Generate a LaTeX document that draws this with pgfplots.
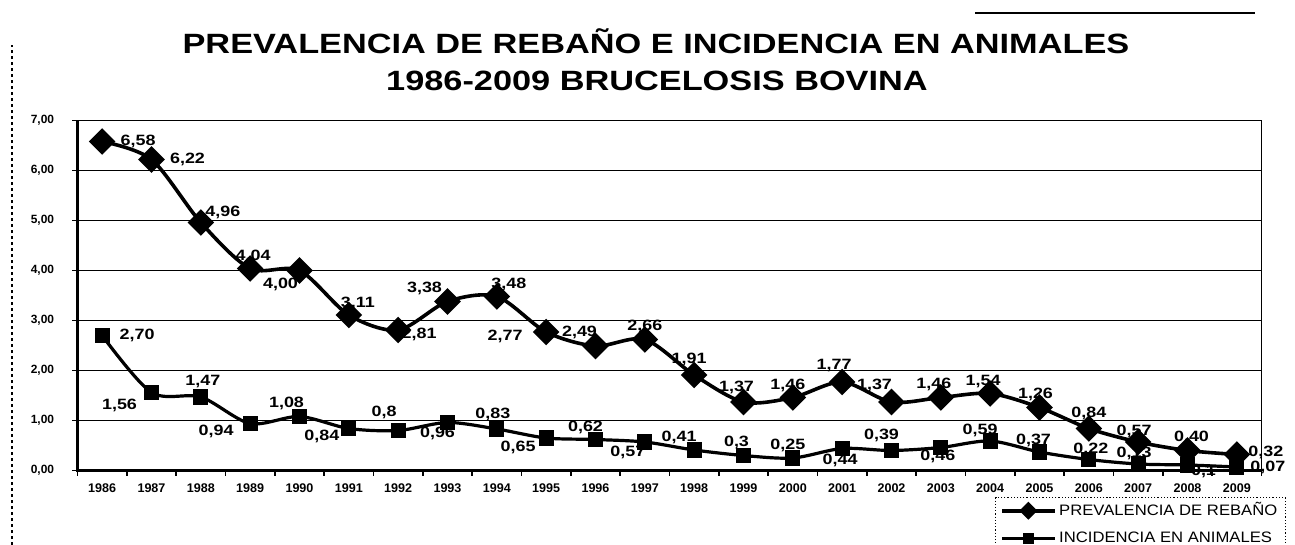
\documentclass[border=0pt]{standalone}
\usepackage{fontspec}
\setmainfont{Liberation Sans}
\usepackage{graphicx}
\usepackage{pgfplots}
\usepackage{pgfplotstable}
\pgfplotsset{compat=1.18}

\pgfplotstableread{
x y lab dx dy
0 6.58 6,58 18 0
1 6.22 6,22 18 0
2 4.96 4,96 11 5
3 4.04 4,04 1.5 6
4 4.00 4,00 -9.5 -7
5 3.11 3,11 4.5 6
6 2.81 2,81 10.5 -2
7 3.38 3,38 -11.5 6.5
8 3.48 3,48 6 6
9 2.77 2,77 -20.5 -2
10 2.49 2,49 -8 7
11 2.62 2,66 0 6.5
12 1.91 1,91 -2.5 8
13 1.37 1,37 -3.5 7.5
14 1.46 1,46 -2.5 6
15 1.77 1,77 -4 8
16 1.37 1,37 -8.5 8.5
17 1.46 1,46 -3.5 6.5
18 1.54 1,54 -3.5 6
19 1.26 1,26 -2 6.5
20 0.84 0,84 0 7.5
21 0.57 0,57 -2 5.5
22 0.40 0,40 2 6.5
23 0.32 0,32 14.5 1
}\prev

\pgfplotstableread{
x y lab dx dy
0 2.70 2,70 17.5 0
1 1.56 1,56 -16 -6.5
2 1.47 1,47 1 7.5
3 0.94 0,94 -17 -4
4 1.08 1,08 -6.5 6.5
5 0.84 0,84 -13.5 -4
6 0.80 0,8 -7 9
7 0.96 0,96 -5 -5.5
8 0.83 0,83 -2 7.5
9 0.65 0,65 -14 -4.5
10 0.62 0,62 -5 6
11 0.57 0,57 -8.5 -5
12 0.41 0,41 -7.5 6.5
13 0.30 0,3 -3.5 6.5
14 0.25 0,25 -2.5 6.5
15 0.44 0,44 -1 -6
16 0.40 0,39 -5 7.5
17 0.46 0,46 -1.5 -4.5
18 0.59 0,59 -5 5.5
19 0.37 0,37 -3 6
20 0.22 0,22 1 5
21 0.13 0,13 -2 5.5
22 0.11 0,1 8 -3
23 0.07 0,07 15.5 0
}\inc

\begin{document}
\begin{tikzpicture}
\begin{axis}[
  scale only axis, width=592bp, height=175bp,
  xmin=-0.5, xmax=23.5, ymin=0, ymax=7,
  clip=false,
  axis line style={line width=0.7bp},
  ytick={0,1,...,7},
  ymajorgrids,
  major grid style={black, line width=0.7bp},
  tick align=outside,
  xtick pos=lower, ytick pos=left,
  tick style={black, line width=0.7bp},
  major tick length=2.5bp,
  xtick={-0.5,0.5,...,23.5}, xticklabels={},
  extra x ticks={0,1,...,23},
  extra x tick labels={1986,1987,1988,1989,1990,1991,1992,1993,1994,1995,1996,1997,1998,1999,2000,2001,2002,2003,2004,2005,2006,2007,2008,2009},
  extra x tick style={major tick length=0pt, grid=none},
  x tick label style={font=\bfseries\fontsize{6.3}{7}\selectfont, anchor=north, inner sep=0pt, yshift=-6.5bp},
  y tick label style={font=\bfseries\fontsize{6}{7}\selectfont, anchor=east, inner sep=0pt, xshift=-9bp,
    /pgf/number format/.cd, fixed, fixed zerofill, precision=2, use comma, assume math mode=true},
  point meta=explicit symbolic,
  visualization depends on={\thisrow{dx} \as \labdx},
  visualization depends on={\thisrow{dy} \as \labdy},
  nodes near coords={\scalebox{1.2}[1]{\pgfplotspointmeta}},
  every node near coord/.append style={anchor=center, inner sep=0pt, xshift=\labdx bp, yshift=\labdy bp, font=\bfseries\fontsize{7.5}{8}\selectfont, black},
  legend style={at={(0.7749,-0.0757)}, anchor=north west, draw=black, line width=0.6bp, densely dotted,
    font=\fontsize{7.6}{8.5}\selectfont, inner xsep=2.5bp, inner ysep=0.5bp, row sep=2.5bp,
    nodes={inner xsep=1.5bp}},
  legend cell align=left,
  legend image code/.code={\draw[mark repeat=2, mark phase=2, #1, solid, every mark/.append style={scale=0.6}] plot coordinates {(0bp,0bp) (13bp,0bp) (26bp,0bp)};},
]
\addplot[black, line width=1.8bp, smooth, mark=square*, mark size=3.8bp, mark options={rotate=45, solid}]
  table[x=x, y=y, meta=lab]{\prev};
\addlegendentry{\scalebox{1.1}[1]{PREVALENCIA DE REBAÑO}}
\addplot[black, line width=1.6bp, smooth, mark=square*, mark size=3bp, mark options={solid}]
  table[x=x, y=y, meta=lab]{\inc};
\addlegendentry{\scalebox{1.1}[1]{INCIDENCIA EN ANIMALES}}
\draw[line width=1.4bp] (rel axis cs:0,1) -- (rel axis cs:0,0) -- (rel axis cs:1,0);
\coordinate (SW) at (rel axis cs:0,0);
\coordinate (NE) at (rel axis cs:1,1);
\coordinate (NW) at (rel axis cs:0,1);
\end{axis}
\node[anchor=base, font=\bfseries\fontsize{14}{16}\selectfont, inner sep=0pt] at ([xshift=289.25bp, yshift=33.75bp]NW) {\scalebox{1.23}[1]{PREVALENCIA DE REBAÑO E INCIDENCIA EN ANIMALES}};
\node[anchor=base, font=\bfseries\fontsize{14}{16}\selectfont, inner sep=0pt] at ([xshift=289.75bp, yshift=15.25bp]NW) {\scalebox{1.23}[1]{1986-2009 BRUCELOSIS BOVINA}};
\coordinate (O) at ([shift={(-38.75bp,-37.25bp)}]SW);
\draw[line width=0.6bp, dash pattern=on 1.5bp off 1.5bp] ([shift={(6bp,0bp)}]O) -- ([shift={(6bp,250bp)}]O);
\draw[line width=0.7bp] ([shift={(487.5bp,266bp)}]O) -- ([shift={(627.5bp,266bp)}]O);
\pgfresetboundingbox
\path[use as bounding box] (O) rectangle ([shift={(16.75bp,60.25bp)}]NE);
\end{tikzpicture}
\end{document}
